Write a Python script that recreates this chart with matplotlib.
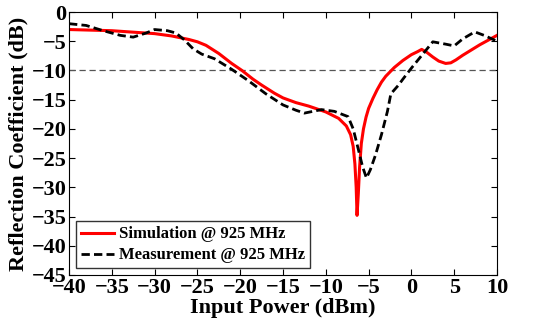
import matplotlib
matplotlib.use("Agg")
import matplotlib.pyplot as plt

sim_x = [-40, -35, -30, -28, -26, -25, -24, -22.5, -21, -19.8, -18.5, -17.5, -16, -15, -13.5, -12, -10, -8.5, -7.6, -7.1, -6.8, -6.6, -6.45, -6.35, -6.2, -6.05, -5.85, -5.6, -5.3, -5, -4.5, -4, -3.5, -3, -2, -1, 0, 0.7, 1.2, 1.8, 2.5, 3.2, 4.0, 4.6, 5.2, 6, 7, 8, 9, 10]
sim_y = [-3.0, -3.2, -3.7, -4.1, -4.7, -5.1, -5.7, -7.1, -8.8, -10.0, -11.5, -12.5, -13.9, -14.7, -15.5, -16.1, -17.1, -18.2, -19.5, -21.0, -23.0, -26.0, -30.0, -34.8, -31.0, -26.5, -22.5, -20.0, -18.0, -16.5, -14.8, -13.3, -12.0, -11.0, -9.5, -8.3, -7.3, -6.8, -6.4, -6.9, -7.7, -8.4, -8.8, -8.7, -8.2, -7.4, -6.5, -5.6, -4.8, -4.0]

meas_x = [-40, -38, -36, -34, -32.5, -31, -30, -28.5, -27.5, -26.5, -25.5, -24.5, -23, -21, -19, -17, -15, -13.5, -12.5, -11.5, -10.5, -9, -7.4, -6.8, -6.2, -5.7, -5.25, -4.8, -4.2, -3.5, -2.8, -2.4, -1.5, -1, 0, 1, 2.5, 4, 5, 6, 7.4, 8.5, 10]
meas_y = [-2.0, -2.3, -3.2, -4.0, -4.3, -3.6, -3.0, -3.2, -3.6, -4.8, -6.3, -7.2, -8.0, -9.8, -11.8, -14.0, -15.9, -16.8, -17.3, -17.0, -16.7, -17.0, -17.9, -20.0, -23.5, -26.5, -28.4, -27.0, -24.5, -21.0, -17.0, -14.0, -12.5, -11.5, -9.6, -7.8, -5.1, -5.5, -5.8, -4.6, -3.4, -4.0, -5.0]

threshold = -10
xticks = [-40, -35, -30, -25, -20, -15, -10, -5, 0, 5, 10]
yticks = [0, -5, -10, -15, -20, -25, -30, -35, -40, -45]

plt.rcParams['font.family'] = ['Liberation Serif', 'DejaVu Serif']
plt.rcParams['font.weight'] = 'bold'

fig = plt.figure(figsize=(5.43, 3.29), dpi=100)
ax = fig.add_axes([69/543, 1 - 275/329, (497-69)/543, (275-12)/329])

ax.axhline(threshold, color='#555555', linestyle=(0, (5, 3)), linewidth=0.9)
ax.plot(sim_x, sim_y, color='#ff0000', linewidth=2.2, label='Simulation @ 925 MHz')
ax.plot(meas_x, meas_y, color='black', linewidth=2.0, linestyle=(0, (3, 1.5)), label='Measurement @ 925 MHz')

ax.set_xlim(-40, 10)
ax.set_ylim(-45, 0)
ax.set_xticks(xticks)
ax.set_yticks(yticks)
ax.tick_params(direction='in', top=True, right=True, length=4, labelsize=16, pad=2)
for lab in ax.get_xticklabels() + ax.get_yticklabels():
    lab.set_fontweight('bold')
ax.set_xlabel('Input Power (dBm)', fontsize=16, fontweight='bold', labelpad=0)
ax.set_ylabel('Reflection Coefficient (dB)', fontsize=16, fontweight='bold', labelpad=2)

leg = ax.legend(loc='lower left', fontsize=12, frameon=True, fancybox=False,
                edgecolor='black', handlelength=2.0, handletextpad=0.3,
                borderpad=0.3, labelspacing=0.3, borderaxespad=0.4,
                prop={'weight': 'bold', 'size': 12})
leg.get_frame().set_linewidth(1.0)

fig.savefig('out.png', dpi=100)
